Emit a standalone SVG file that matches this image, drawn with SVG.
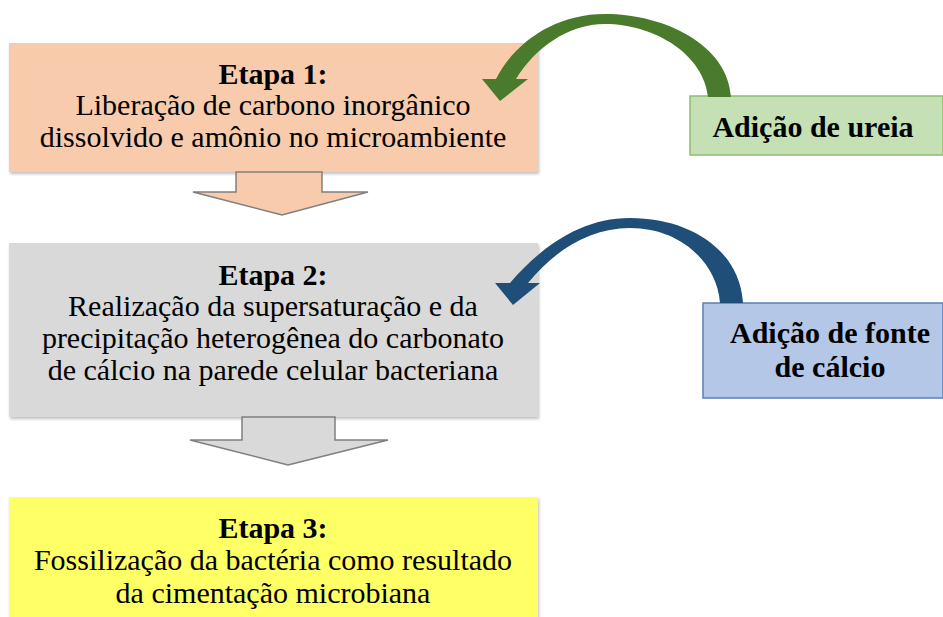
<svg xmlns="http://www.w3.org/2000/svg" width="943" height="617" viewBox="0 0 943 617">
<style>
.t{font-size:30px;fill:#000;text-anchor:middle}
.b{font-weight:bold}
.blk{stroke:#7f7f7f;stroke-width:1.5}
</style>
<defs>
<filter id="sh" x="-5%" y="-5%" width="110%" height="115%">
<feDropShadow dx="1" dy="2" stdDeviation="1.5" flood-color="#000" flood-opacity="0.25"/>
</filter>
</defs>
<rect width="943" height="617" fill="#fff"/>
<g id="etapa1">
<rect x="9" y="43" width="529" height="129" fill="#f8cbad" filter="url(#sh)"/>
<text class="t b" font-family="Liberation Serif" x="273" y="84">Etapa 1:</text>
<text class="t" font-family="Liberation Serif" x="273" y="115">Liberação de carbono inorgânico</text>
<text class="t" font-family="Liberation Serif" x="273" y="147">dissolvido e amônio no microambiente</text>
</g>
<g id="etapa2">
<rect x="9" y="243" width="529" height="174" fill="#d9d9d9" filter="url(#sh)"/>
<text class="t b" font-family="Liberation Serif" x="273" y="285">Etapa 2:</text>
<text class="t" font-family="Liberation Serif" x="273" y="316">Realização da supersaturação e da</text>
<text class="t" font-family="Liberation Serif" x="273" y="348">precipitação heterogênea do carbonato</text>
<text class="t" font-family="Liberation Serif" x="273" y="380">de cálcio na parede celular bacteriana</text>
</g>
<g id="etapa3">
<rect x="9" y="497" width="529" height="125" fill="#ffff66" filter="url(#sh)"/>
<text class="t b" font-family="Liberation Serif" x="273" y="538">Etapa 3:</text>
<text class="t" font-family="Liberation Serif" x="273" y="570">Fossilização da bactéria como resultado</text>
<text class="t" font-family="Liberation Serif" x="273" y="603">da cimentação microbiana</text>
</g>
<g id="ureia">
<rect x="690" y="96" width="253" height="59" fill="#c5e0b4" stroke="#8fbc6f" stroke-width="1.5"/>
<text class="t b" font-family="Liberation Serif" x="813" y="137">Adição de ureia</text>
</g>
<g id="calcio">
<rect x="703" y="303" width="240" height="95" fill="#b4c7e7" stroke="#5b7fb5" stroke-width="1.5"/>
<text class="t b" font-family="Liberation Serif" x="830" y="343">Adição de fonte</text>
<text class="t b" font-family="Liberation Serif" x="830" y="377">de cálcio</text>
</g>
<g id="connectors">
<path class="blk" fill="#f8cbad" d="M236 172 L322 172 L322 192 L368 192 L282 215 L193 192 L236 192 Z"/>
<path class="blk" fill="#d9d9d9" d="M242 417 L335 417 L335 440 L388 440 L288 465 L190 440 L242 440 Z"/>
<path fill="#4a7a2c" d="M731 97 C728 45 665 14 605 14 C555 14 515 42 496 79 L482 79 L500 101 L528 79 L516 79 C535 48 568 24 605 24 C655 24 704 55 708 97 Z"/>
<path fill="#1f4e79" d="M743 303 C740 250 690 218 630 218 C580 218 540 248 510 283 L495 283 L513 305 L540 283 L528 283 C555 250 590 228 630 228 C680 228 717 262 720 303 Z"/>
</g>
</svg>
